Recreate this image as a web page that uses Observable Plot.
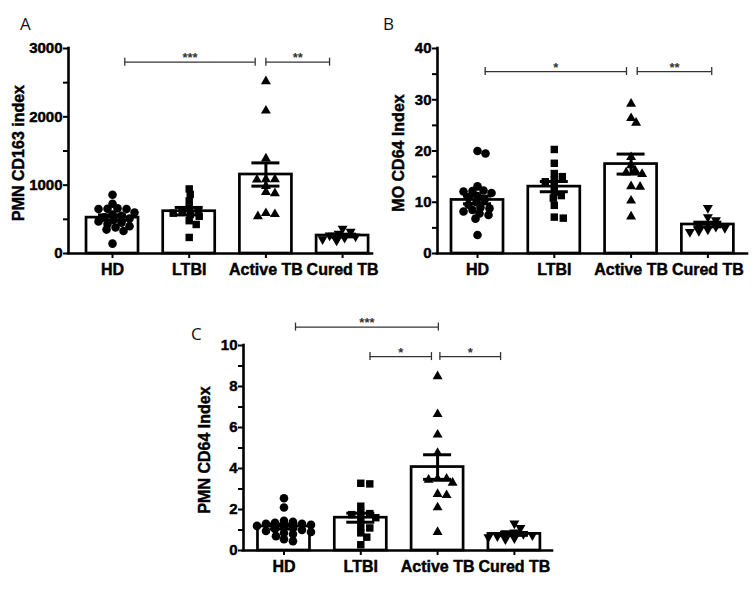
<!DOCTYPE html>
<html><head><meta charset="utf-8">
<script src="https://cdn.jsdelivr.net/npm/d3@7"></script>
<script src="https://cdn.jsdelivr.net/npm/@observablehq/plot@0.6"></script>
<style>
body{margin:0;background:#fff;}
#wrap{position:relative;width:756px;height:590px;overflow:hidden;}
.panel{position:absolute;}
.panel text{font-family:"Liberation Sans", Arial, Helvetica, sans-serif !important;font-weight:700 !important;}
.panel .heavy text, .panel text.heavy{stroke:#000;stroke-width:0.45px;}
.letter{position:absolute;font-family:"Open Sans","Liberation Sans",sans-serif;font-size:17px;color:#111;line-height:1;}
</style></head><body>
<div id="wrap"></div>
<script>
// ---------- DATA ----------
const categories = ["HD", "LTBI", "Active TB", "Cured TB"];

// Panel A: PMN CD163 index
const aHD     = [860, 727, 660, 655, 650, 650, 600, 570, 550, 530, 510, 490, 470, 450, 430, 400, 380, 350, 330, 145];
const aLTBI   = [945, 865, 770, 668, 640, 610, 590, 570, 545, 480, 425, 235];
const aActive = [2520, 2090, 1390, 1085, 1080, 1085, 985, 900, 880, 590, 545, 575];
const aCured  = [365, 320, 290, 265, 250, 230, 210, 190];
const aMeans  = [525, 619, 1156, 263];
const aSems   = [40, 55, 170, 20];
const aTicks  = [0, 1000, 2000, 3000];
const aMinor  = [500, 1500, 2500];
const aBrFrom = [0.16, 2.0];
const aBrTo   = [1.86, 2.83];
const aBrLevel= [2800, 2800];
const aBrText = ["***", "**"];

// Panel B: MO CD64 Index
const bHD     = [19.5, 20.0, 13.1, 12.3, 12.2, 12.1, 11.8, 11.2, 11.0, 10.5, 10.0, 9.5, 9.0, 8.8, 8.5, 8.2, 7.8, 7.5, 6.8, 3.6];
const bLTBI   = [20.3, 17.6, 15.6, 15.0, 14.4, 14.0, 13.3, 12.0, 11.3, 10.8, 9.4, 6.9, 7.1];
const bActive = [29.2, 26.4, 25.5, 18.8, 17.2, 16.2, 15.8, 15.5, 13.0, 13.1, 10.3, 7.2];
const bCured  = [8.9, 7.1, 6.5, 5.8, 5.5, 5.2, 5.0, 4.7, 4.4, 4.2];
const bMeans  = [10.45, 13.05, 17.45, 5.66];
const bSems   = [0.75, 1.0, 1.95, 0.45];
const bTicks  = [0, 10, 20, 30, 40];
const bMinor  = [5, 15, 25, 35];
const bBrFrom = [0.1, 2.08];
const bBrTo   = [1.94, 3.05];
const bBrLevel= [35.5, 35.5];
const bBrText = ["*", "**"];

// Panel C: PMN CD64 Index
const cHD     = [2.55, 2.1, 1.45, 1.4, 1.35, 1.3, 1.3, 1.25, 1.2, 1.15, 1.1, 1.05, 1.0, 0.95, 0.9, 0.85, 0.8, 0.7, 0.55, 0.45];
const cLTBI   = [3.28, 3.25, 2.16, 1.85, 1.8, 1.75, 1.6, 1.5, 1.15, 1.1, 0.86, 0.65, 0.28];
const cActive = [8.5, 6.65, 5.65, 4.75, 3.5, 3.45, 3.5, 3.3, 2.7, 2.75, 2.1, 0.9];
const cCured  = [1.32, 1.1, 0.88, 0.85, 0.8, 0.75, 0.7, 0.65, 0.6, 0.55];
const cMeans  = [1.17, 1.6, 4.07, 0.81];
const cSems   = [0.12, 0.22, 0.6, 0.07];
const cTicks  = [0, 2, 4, 6, 8, 10];
const cMinor  = [1, 3, 5, 7, 9];
const cBrFrom = [0.15, 1.12, 2.03];
const cBrTo   = [2.01, 1.92, 2.82];
const cBrLevel= [10.9, 9.46, 9.46];
const cBrText = ["***", "*", "*"];

// ---------- DRAWING ----------
const FONT = '"Liberation Sans", Arial, sans-serif';
const symbols = ["circle", "square", "triangle", "triangle"];
const rotations = [0, 0, 0, 180];
const radii = [4.3, 4.2, 3.7, 3.7];

// scatter layout: neighbours in value are spread sideways (elliptical collision)
function swarm(vals, k, sx, sy) {
  const placed = [];
  const order = vals.map((v, j) => j).sort((a, b) => vals[b] - vals[a]);
  const offs = new Array(vals.length).fill(0);
  for (const j of order) {
    const py = vals[j] * k;
    for (let s = 0; s < 500; s++) {
      const c = s === 0 ? 0 : (s % 2 ? 1 : -1) * Math.ceil(s / 2);
      if (placed.every(p => ((p.x - c) / sx) ** 2 + ((p.y - py) / sy) ** 2 >= 1)) {
        placed.push({x: c, y: py}); offs[j] = c; break;
      }
    }
  }
  return offs;
}

function panel(cfg) {
  const {width, height, mL, mR, mT, mB, xDomain, yMax} = cfg;
  const k = (height - mT - mB) / yMax;
  const stepPx = (width - mL - mR) / (xDomain[1] - xDomain[0]);
  const hw = 26 / stepPx, cw = 14 / stepPx;
  const groups = categories.map((c, i) => ({i, mean: cfg.means[i], sem: cfg.sems[i]}));
  const caps = groups.flatMap(g => [{i: g.i, y: g.mean + g.sem}, {i: g.i, y: g.mean - g.sem}]);
  const pts = cfg.values.map((vals, i) => {
    const offs = swarm(vals, k, 9, 5.5);
    return vals.map((v, j) => ({v, x: i + offs[j] / stepPx}));
  });
  const br = cfg.brFrom.map((f, j) => ({x1: f, x2: cfg.brTo[j], y: cfg.brLevel[j], t: cfg.brText[j]}));
  const tickH = 4 / k;
  const chart = Plot.plot({
    width, height, marginLeft: mL, marginRight: mR, marginTop: mT, marginBottom: mB,
    style: {fontFamily: FONT, color: "black", background: "transparent", overflow: "visible"},
    x: {domain: xDomain},
    y: {domain: [0, yMax]},
    marks: [
      Plot.rectY(groups, {x1: d => d.i - hw, x2: d => d.i + hw, y1: 0, y2: "mean", fill: "white", stroke: "black", strokeWidth: 2.7}),
      ...pts.map((p, i) => Plot.dot(p, {x: "x", y: "v", symbol: symbols[i], r: radii[i], rotate: rotations[i], fill: "black", stroke: "none"})),
      Plot.ruleX(groups, {x: "i", y1: d => d.mean - d.sem, y2: d => d.mean + d.sem, stroke: "black", strokeWidth: 3}),
      Plot.ruleY(caps, {y: "y", x1: d => d.i - cw, x2: d => d.i + cw, stroke: "black", strokeWidth: 3}),
      Plot.ruleY([0], {stroke: "black", strokeWidth: 2.6, strokeLinecap: "square"}),
      Plot.ruleX([xDomain[0]], {stroke: "black", strokeWidth: 2.6, strokeLinecap: "square"}),
      Plot.axisY({ticks: cfg.ticks, tickFormat: d3.format("d"), tickSize: 5, tickPadding: 1, strokeWidth: 2, fontSize: 15, fontWeight: "bold", label: null, className: "heavy"}),
      Plot.axisY({ticks: cfg.minor, tickFormat: () => "", tickSize: 5, strokeWidth: 2, label: null}),
      Plot.axisX({ticks: [0, 1, 2, 3], tickFormat: i => categories[i], tickSize: 5, tickPadding: 5, strokeWidth: 2, fontSize: 16, fontWeight: "bold", label: null, className: "heavy"}),
      Plot.ruleY(br, {y: "y", x1: "x1", x2: "x2", stroke: "#333", strokeWidth: 1.3}),
      Plot.ruleX(br, {x: "x1", y1: d => d.y - tickH, y2: d => d.y + tickH, stroke: "#333", strokeWidth: 1.3}),
      Plot.ruleX(br, {x: "x2", y1: d => d.y - tickH, y2: d => d.y + tickH, stroke: "#333", strokeWidth: 1.3}),
      Plot.text(br, {x: d => (d.x1 + d.x2) / 2, y: "y", text: "t", dy: -4, fontSize: 13, fontWeight: "bold", fill: "#333", lineAnchor: "middle"}),
      Plot.text([cfg.label], {frameAnchor: "left", text: d => d, rotate: -90, dx: cfg.labelDx, dy: 2, fontSize: 16, fontWeight: "bold", textAnchor: "middle", lineAnchor: "middle", className: "heavy"})
    ]
  });
  chart.classList.add("panel");
  chart.style.left = cfg.left + "px";
  chart.style.top = cfg.top + "px";
  return chart;
}

const wrap = document.getElementById("wrap");
wrap.appendChild(panel({
  left: 0, top: 0, width: 380, height: 290, mL: 68, mR: 8, mT: 48, mB: 37,
  xDomain: [-0.574, 3.39], yMax: 3000,
  values: [aHD, aLTBI, aActive, aCured], means: aMeans, sems: aSems,
  ticks: aTicks, minor: aMinor, brFrom: aBrFrom, brTo: aBrTo, brLevel: aBrLevel, brText: aBrText,
  label: "PMN CD163 index", labelDx: -50
}));
wrap.appendChild(panel({
  left: 380, top: 0, width: 376, height: 290, mL: 57, mR: 9, mT: 48, mB: 37,
  xDomain: [-0.521, 3.516], yMax: 40,
  values: [bHD, bLTBI, bActive, bCured], means: bMeans, sems: bSems,
  ticks: bTicks, minor: bMinor, brFrom: bBrFrom, brTo: bBrTo, brLevel: bBrLevel, brText: bBrText,
  label: "MO CD64 Index", labelDx: -39
}));
wrap.appendChild(panel({
  left: 180, top: 290, width: 380, height: 300, mL: 63, mR: 8, mT: 55, mB: 40,
  xDomain: [-0.527, 3.496], yMax: 10,
  values: [cHD, cLTBI, cActive, cCured], means: cMeans, sems: cSems,
  ticks: cTicks, minor: cMinor, brFrom: cBrFrom, brTo: cBrTo, brLevel: cBrLevel, brText: cBrText,
  label: "PMN CD64 Index", labelDx: -39
}));

[["A", 20, 15], ["B", 383, 15], ["C", 191, 325]].forEach(([t, x, y]) => {
  const d = document.createElement("div");
  d.className = "letter";
  d.textContent = t;
  d.style.left = x + "px";
  d.style.top = y + "px";
  wrap.appendChild(d);
});
</script>
</body></html>
